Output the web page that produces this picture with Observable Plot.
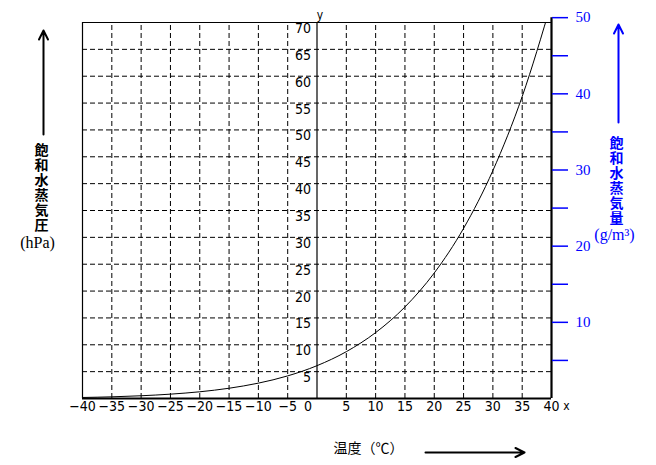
<!DOCTYPE html>
<html>
<head>
<meta charset="utf-8">
<script src="https://cdn.jsdelivr.net/npm/d3@7"></script>
<script src="https://cdn.jsdelivr.net/npm/@observablehq/plot@0.6"></script>
<style>
  html, body { margin: 0; padding: 0; background: #ffffff; }
  #chart svg { display: block; }
</style>
</head>
<body>
<div id="chart"></div>
<script>
// Temperature (°C) and saturation vapour pressure (hPa)
const temps    = [-40, -35, -30, -25, -20, -15, -10, -5, 0, 5, 10, 15, 20, 25, 30, 35, 40];
const pressure = [0.19, 0.31, 0.51, 0.81, 1.25, 1.91, 2.86, 4.21, 6.11, 8.72, 12.27, 17.04, 23.37, 31.67, 42.43, 56.22, 73.75];

// Axis ticks
const xTicks = [-40, -35, -30, -25, -20, -15, -10, -5, 0, 5, 10, 15, 20, 25, 30, 35, 40];
const yTicks = [5, 10, 15, 20, 25, 30, 35, 40, 45, 50, 55, 60, 65, 70];
const hGrid  = [5, 10, 15, 20, 25, 30, 35, 40, 45, 50, 55, 60, 65];
const vGrid  = [-35, -30, -25, -20, -15, -10, -5, 5, 10, 15, 20, 25, 30, 35];
const gTicks = [5, 10, 15, 20, 25, 30, 35, 40, 45, 50];   // right axis (g/m3)
const gLabels = [10, 20, 30, 40, 50];
const hPaPerG = 1.418;  // right-axis scale relative to the left axis

// Titles
const leftTitle  = ["飽和水蒸気圧"];
const leftUnit   = ["(hPa)"];
const rightTitle = ["飽和水蒸気量"];
const rightUnit  = ["(g/m³)"];
const xTitle     = ["温度（℃）"];

const data = temps.map((t, i) => ({t, p: pressure[i]}));
const BLUE = "#0000ff";
const NUM = "'Liberation Sans Narrow', 'DejaVu Sans Condensed', 'Arial Narrow', sans-serif";
const SERIF = "'Liberation Serif', 'DejaVu Serif', serif";
const CJK = "'Noto Sans CJK JP', 'Noto Sans CJK SC', sans-serif";
const fmt = d => d < 0 ? "−" + (-d) : String(d);

const arrowShape = {
  draw(ctx, l) {
    ctx.moveTo(0, 0);
    ctx.lineTo(0, -l);
    ctx.moveTo(-4.5, 9 - l);
    ctx.lineTo(0, -l);
    ctx.lineTo(4.5, 9 - l);
  }
};

const label = (extra) => ({textAnchor: "middle", lineAnchor: "middle", ...extra});

const chart = Plot.plot({
  width: 656,
  height: 465,
  marginLeft: 82,
  marginRight: 105,
  marginTop: 22,
  marginBottom: 67,
  x: {domain: [-40, 40], axis: null},
  y: {domain: [0, 70], axis: null},
  style: {background: "#ffffff", color: "#000000"},
  marks: [
    // dashed grid
    Plot.ruleY(hGrid, {stroke: "#000", strokeWidth: 1, strokeDasharray: "5,3"}),
    Plot.ruleX(vGrid, {y1: 0, y2: 70, stroke: "#000", strokeWidth: 1, strokeDasharray: "5,3"}),
    // frame and axes
    Plot.ruleY([70], {stroke: "#000", strokeWidth: 1.2}),
    Plot.ruleX([-40], {y1: 0, y2: 70, stroke: "#000", strokeWidth: 1.2}),
    Plot.ruleX([0], {y1: 0, y2: 70, stroke: "#000", strokeWidth: 1.2}),
    Plot.ruleX([40], {y1: 0, y2: 50 * hPaPerG, stroke: "#000", strokeWidth: 2.2}),
    // curve
    Plot.line(data, {x: "t", y: "p", curve: "monotone-x", stroke: "#000", strokeWidth: 1, clip: true}),
    Plot.ruleY([0], {stroke: "#000", strokeWidth: 2}),
    // left axis labels (between grid lines, left of y axis)
    Plot.text(yTicks, {x: 0, y: d => d, text: d => String(d), textAnchor: "end", dx: -6, dy: 6,
      lineAnchor: "middle", fontFamily: NUM, fontSize: 14, fill: "#000"}),
    // x axis labels
    Plot.text(xTicks.filter(d => d !== 0), label({x: d => d, y: 0, text: fmt, dy: 8,
      fontFamily: NUM, fontSize: 14, fill: "#000"})),
    Plot.text(xTicks.filter(d => d === 0), label({x: d => d, y: 0, text: fmt, dx: -9, dy: 8,
      fontFamily: NUM, fontSize: 14, fill: "#000"})),
    Plot.text(["x"], label({frameAnchor: "bottom-right", dx: 15, dy: 8, fontFamily: NUM, fontSize: 12, fill: "#000"})),
    Plot.text(["y"], label({x: 0, y: 70, dx: 3, dy: -7, fontFamily: NUM, fontSize: 12, fill: "#000"})),
    // right axis (g/m3): ticks and labels
    Plot.axisY(gTicks.map(g => g * hPaPerG), {
      anchor: "right", tickSize: 16, strokeWidth: 1.5, tickFormat: () => "",
      color: BLUE, label: null
    }),
    Plot.text(gLabels, {x: 40, y: d => d * hPaPerG, text: d => String(d), textAnchor: "start", dx: 24,
      lineAnchor: "middle", fontFamily: SERIF, fontSize: 15, fill: BLUE}),
    // left title
    Plot.vector([0], {frameAnchor: "top-left", dx: -39, dy: 112, length: 104, anchor: "start",
      shape: arrowShape, stroke: "#000", strokeWidth: 2}),
    Plot.text(leftTitle, label({frameAnchor: "top-left", dx: -41, dy: 160.5,
      fontFamily: CJK, fontSize: 14, fontWeight: "bold", fill: "#000"})),
    Plot.text(leftUnit, label({frameAnchor: "top-left", dx: -45, dy: 220,
      fontFamily: SERIF, fontSize: 16, fill: "#000"})),
    // right title
    Plot.vector([0], {frameAnchor: "top-right", dx: 67, dy: 100, length: 98, anchor: "start",
      shape: arrowShape, stroke: BLUE, strokeWidth: 2}),
    Plot.text(rightTitle, label({frameAnchor: "top-right", dx: 65, dy: 154,
      fontFamily: CJK, fontSize: 14, fontWeight: "bold", fill: BLUE})),
    Plot.text(rightUnit, label({frameAnchor: "top-right", dx: 63, dy: 212,
      fontFamily: SERIF, fontSize: 16, fill: BLUE})),
    // bottom title
    Plot.text(xTitle, label({frameAnchor: "bottom", dx: 51.5, dy: 50,
      fontFamily: CJK, fontSize: 14, fill: "#000"})),
    Plot.vector([0], {frameAnchor: "bottom", dx: 108.5, dy: 54, length: 99, rotate: 90, anchor: "start",
      shape: arrowShape, stroke: "#000", strokeWidth: 2})
  ]
});

// vertical (tategaki) layout for the two axis titles
const verticalTitles = [leftTitle[0], rightTitle[0]];
d3.select(chart).selectAll("text")
  .filter(function() { return verticalTitles.includes(this.textContent); })
  .attr("dy", null)
  .style("writing-mode", "vertical-rl")
  .style("text-orientation", "upright")
  .style("letter-spacing", "1px");

document.getElementById("chart").appendChild(chart);
</script>
</body>
</html>
